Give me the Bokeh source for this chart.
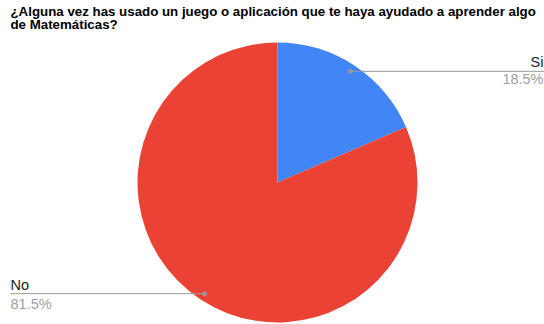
import math
from bokeh.plotting import figure
from bokeh.models import Range1d, ColumnDataSource
from bokeh.embed import file_html
from bokeh.resources import INLINE
from bokeh.core.properties import value

title_lines = ["¿Alguna vez has usado un juego o aplicación que te haya ayudado a aprender algo",
               "de Matemáticas?"]
categories = ["Si", "No"]
percentages = [18.5, 81.5]
colors = ["#4285F4", "#EA4335"]

W, H = 544, 324
p = figure(width=W, height=H, output_backend="svg", toolbar_location=None,
           x_range=Range1d(0, W), y_range=Range1d(0, H), min_border=0)
p.axis.visible = False
p.grid.visible = False
p.outline_line_color = None
p.background_fill_color = "white"
p.border_fill_color = "white"

cx, cy, R = 277, H - 182, 140
total = sum(percentages)
starts, ends, mids = [], [], []
cum = 0.0
for v in percentages:
    # clockwise from top
    a0 = math.pi / 2 - 2 * math.pi * cum / total
    a1 = math.pi / 2 - 2 * math.pi * (cum + v) / total
    starts.append(a1)
    ends.append(a0)
    mids.append((a0 + a1) / 2)
    cum += v

src = ColumnDataSource(dict(start=starts, end=ends, color=colors))
p.wedge(x=cx, y=cy, radius=R, start_angle="start", end_angle="end",
        fill_color="color", line_color=None, source=src)

# leader lines and labels
rl = 133
font = value("Liberation Sans")
fs = "14.5px"
for i, cat in enumerate(categories):
    ax = cx + rl * math.cos(mids[i])
    ay = cy + rl * math.sin(mids[i])
    if ax > cx:
        p.line([ax, W], [ay, ay], line_color="#9a9a9a", line_width=1)
        p.scatter([ax], [ay], size=4, color="#9a9a9a")
        p.text([W - 1], [ay + 9], text=[cat], text_align="right", text_baseline="middle",
               text_font=font, text_font_size=fs, text_color="#222222")
        p.text([W - 1], [ay - 8], text=[f"{percentages[i]}%"], text_align="right",
               text_baseline="middle", text_font=font, text_font_size=fs,
               text_color="#9e9e9e")
    else:
        p.line([10, ax], [ay, ay], line_color="#9a9a9a", line_width=1)
        p.scatter([ax], [ay], size=4, color="#9a9a9a")
        p.text([10], [ay + 9], text=[cat], text_align="left", text_baseline="middle",
               text_font=font, text_font_size=fs, text_color="#222222")
        p.text([10], [ay - 10], text=[f"{percentages[i]}%"], text_align="left",
               text_baseline="middle", text_font=font, text_font_size=fs,
               text_color="#9e9e9e")

# title
for j, line in enumerate(title_lines):
    p.text([10], [H - 11 - 13 * j], text=[line], text_align="left", text_baseline="middle",
           text_font=font, text_font_size="13.3px", text_font_style="bold",
           text_color="#000000")

open("out.html", "w").write(file_html(p, INLINE))
